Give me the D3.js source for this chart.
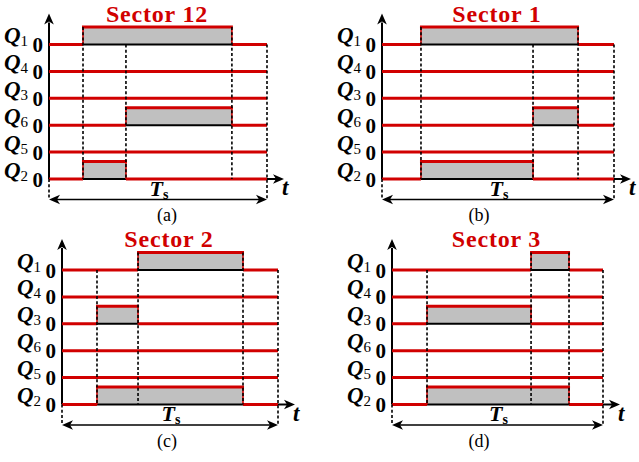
<!DOCTYPE html>
<html><head><meta charset="utf-8">
<script src="https://cdn.jsdelivr.net/npm/d3@7"></script>
<style>body{margin:0;background:#fff} text{font-family:"Liberation Serif","Times New Roman",Times,serif}</style>
</head><body>
<svg id="c" width="639" height="462"></svg>
<script>
// ---- data ----
const panelLabels = ["(a)", "(b)", "(c)", "(d)"];
const sectorTitles = ["Sector 12", "Sector 1", "Sector 2", "Sector 3"];
const switchIds = ["1", "4", "3", "6", "5", "2"];
// switching instants (fraction of Ts) per sector
const switchInstants = [[0.156, 0.353, 0.839], [0.168, 0.651, 0.845], [0.162, 0.352, 0.838], [0.166, 0.659, 0.839]];
// on-intervals per switch per sector (null = always 0)
const onQ1 = [[0.156, 0.839], [0.168, 0.845], [0.352, 0.838], [0.659, 0.839]];
const onQ4 = [null, null, null, null];
const onQ3 = [null, null, [0.162, 0.352], [0.166, 0.659]];
const onQ6 = [[0.353, 0.839], [0.651, 0.845], null, null];
const onQ5 = [null, null, null, null];
const onQ2 = [[0.156, 0.353], [0.168, 0.651], [0.162, 0.838], [0.166, 0.839]];
const periodDomain = [0, 1];

const onBySwitch = {"1": onQ1, "4": onQ4, "3": onQ3, "6": onQ6, "5": onQ5, "2": onQ2};

// ---- layout ----
const layout = [
  {x0: 49, x1: 267, y0: 44.5, lx: 167},
  {x0: 382, x1: 614, y0: 44.5, lx: 479},
  {x0: 62, x1: 278, y0: 270, lx: 167},
  {x0: 392, x1: 603, y0: 270, lx: 479}
];
const RED = "#d10000", GRAY = "#c0c0c0";
const spacing = 26.9, pulseH = 17.5;

const svg = d3.select("#c");

function arrowHead(g, tipX, tipY, dir) {
  const L = 11, W = 4.8, N = 3;
  let pts;
  if (dir === "up") pts = [[tipX, tipY], [tipX - W, tipY + L], [tipX, tipY + L - N], [tipX + W, tipY + L]];
  if (dir === "right") pts = [[tipX, tipY], [tipX - L, tipY - W], [tipX - L + N, tipY], [tipX - L, tipY + W]];
  if (dir === "left") pts = [[tipX, tipY], [tipX + L, tipY - W], [tipX + L - N, tipY], [tipX + L, tipY + W]];
  g.append("path").attr("d", d3.line()(pts) + "Z").attr("fill", "#000");
}

layout.forEach((L, p) => {
  const g = svg.append("g");
  const x = d3.scaleLinear().domain(periodDomain).range([L.x0, L.x1]);
  const y = d3.scalePoint().domain(switchIds).range([L.y0, L.y0 + spacing * (switchIds.length - 1)]);
  const yTop = y(switchIds[0]), yBot = y(switchIds[switchIds.length - 1]);
  const tsY = yBot + 20.5;

  // title
  g.append("text").attr("x", (L.x0 + L.x1) / 2 - 1).attr("y", yTop - 23)
    .attr("text-anchor", "middle").attr("fill", RED)
    .attr("font-weight", "bold").attr("font-size", 24)
    .attr("letter-spacing", 0.8)
    .text(sectorTitles[p]);

  // y axis
  g.append("line").attr("x1", L.x0).attr("x2", L.x0).attr("y1", yBot).attr("y2", yTop - 22)
    .attr("stroke", "#000").attr("stroke-width", 2);
  arrowHead(g, L.x0, yTop - 31, "up");

  // t axis extension
  g.append("line").attr("x1", L.x1).attr("x2", L.x1 + 10).attr("y1", yBot).attr("y2", yBot)
    .attr("stroke", "#000").attr("stroke-width", 2);
  arrowHead(g, L.x1 + 17, yBot, "right");
  g.append("text").attr("x", L.x1 + 15).attr("y", yBot + 16)
    .attr("font-weight", "bold").attr("font-style", "italic").attr("font-size", 23)
    .text("t");

  // signals
  switchIds.forEach(id => {
    const ly = y(id);
    const on = onBySwitch[id][p];
    const segs = on ? [[0, on[0]], [on[1], 1]] : [[0, 1]];
    if (on) {
      const xa = x(on[0]), xb = x(on[1]);
      g.append("rect").attr("x", xa).attr("y", ly - pulseH).attr("width", xb - xa).attr("height", pulseH)
        .attr("fill", GRAY);
      g.append("line").attr("x1", xa).attr("x2", xb).attr("y1", ly).attr("y2", ly)
        .attr("stroke", "#000").attr("stroke-width", 2);
      [xa, xb].forEach(xe => {
        g.append("line").attr("x1", xe).attr("x2", xe).attr("y1", ly - pulseH).attr("y2", ly)
          .attr("stroke", RED).attr("stroke-width", 1.6);
      });
      g.append("line").attr("x1", xa - 1).attr("x2", xb + 1).attr("y1", ly - pulseH).attr("y2", ly - pulseH)
        .attr("stroke", RED).attr("stroke-width", 3);
    }
    segs.forEach(s => {
      g.append("line").attr("x1", x(s[0])).attr("x2", x(s[1])).attr("y1", ly).attr("y2", ly)
        .attr("stroke", RED).attr("stroke-width", 3);
    });

    // labels
    const lab = g.append("text").attr("x", L.x0 - 21).attr("y", ly - 1.5).attr("text-anchor", "end")
      .attr("font-weight", "bold").attr("font-size", 23);
    lab.append("tspan").attr("font-style", "italic").text("Q");
    lab.append("tspan").attr("dy", 3).attr("font-size", 15).attr("font-weight", "normal").text(id);
    g.append("text").attr("x", L.x0 - 6).attr("y", ly + 7.5).attr("text-anchor", "end")
      .attr("font-weight", "bold").attr("font-size", 21).text("0");
  });

  // dashed guides
  const dash = "3,2.2";
  switchInstants[p].forEach(tv => {
    let top = yTop;
    switchIds.forEach(id => {
      const on = onBySwitch[id][p];
      if (on && (Math.abs(on[0] - tv) < 1e-9 || Math.abs(on[1] - tv) < 1e-9)) top = Math.min(top, y(id) - pulseH);
    });
    g.append("line").attr("x1", x(tv)).attr("x2", x(tv)).attr("y1", top).attr("y2", yBot)
      .attr("stroke", "#000").attr("stroke-width", 1.6).attr("stroke-dasharray", dash);
  });
  g.append("line").attr("x1", x(1)).attr("x2", x(1)).attr("y1", yTop).attr("y2", tsY)
    .attr("stroke", "#000").attr("stroke-width", 1.6).attr("stroke-dasharray", dash);
  g.append("line").attr("x1", x(0)).attr("x2", x(0)).attr("y1", yBot).attr("y2", tsY)
    .attr("stroke", "#000").attr("stroke-width", 1.6).attr("stroke-dasharray", dash);

  // Ts arrow
  g.append("line").attr("x1", x(0) + 6).attr("x2", x(1) - 6).attr("y1", tsY).attr("y2", tsY)
    .attr("stroke", "#000").attr("stroke-width", 1.5);
  arrowHead(g, x(0), tsY, "left");
  arrowHead(g, x(1), tsY, "right");
  const ts = g.append("text").attr("x", (x(0) + x(1)) / 2 + 1).attr("y", tsY - 4).attr("text-anchor", "middle")
    .attr("font-weight", "bold").attr("font-size", 22);
  ts.append("tspan").attr("font-style", "italic").text("T");
  ts.append("tspan").attr("dy", 3).attr("font-size", 14).text("s");

  // panel label
  g.append("text").attr("x", L.lx).attr("y", tsY + 21.5).attr("text-anchor", "middle")
    .attr("font-size", 18).text(panelLabels[p]);
});
</script>
</body></html>
